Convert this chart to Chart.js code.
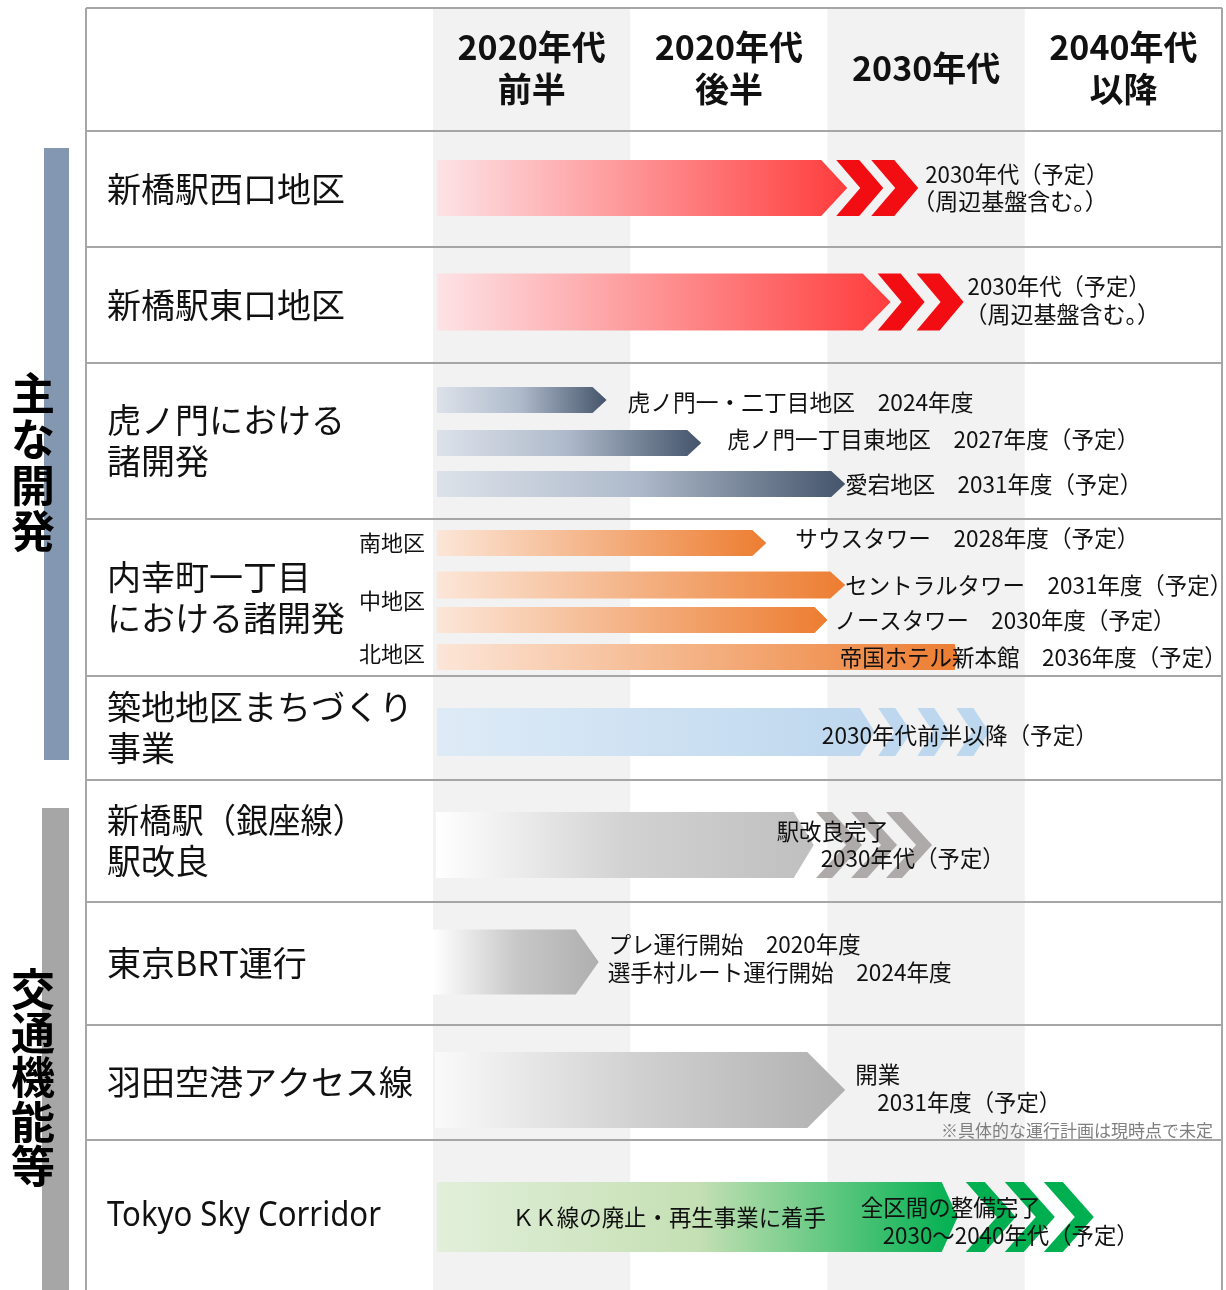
<!DOCTYPE html>
<html>
<head>
<meta charset="utf-8">
<script src="https://cdn.jsdelivr.net/npm/chart.js@4.4.1/dist/chart.umd.min.js"></script>
<style>
html,body{margin:0;padding:0;background:#fff;}
#wrap{width:1226px;height:1290px;position:relative;}
canvas{display:block;}
</style>
</head>
<body>
<div id="wrap"><canvas id="c" width="1226" height="1290"></canvas></div>
<script>
// ================= DATA =================
const periods = [['2020年代','前半'], ['2020年代','後半'], ['2030年代'], ['2040年代','以降']];
const groups = ['主な開発', '交通機能等'];
const categories = [
  ['新橋駅西口地区'], ['新橋駅東口地区'], ['虎ノ門における','諸開発'], ['内幸町一丁目','における諸開発'],
  ['築地地区まちづくり','事業'], ['新橋駅（銀座線）','駅改良'], ['東京BRT運行'], ['羽田空港アクセス線'], ['Tokyo Sky Corridor']
];
const subAreas = ['南地区', '中地区', '北地区'];
const projects = ['新橋駅西口地区','新橋駅東口地区','虎ノ門一・二丁目地区','虎ノ門一丁目東地区','愛宕地区',
  'サウスタワー','セントラルタワー','ノースタワー','帝国ホテル新本館','築地地区まちづくり事業',
  '新橋駅（銀座線）駅改良','東京BRT運行','羽田空港アクセス線','Tokyo Sky Corridor'];
const projectRow   = [0, 1, 2, 2, 2, 3, 3, 3, 3, 4, 5, 6, 7, 8];
// values in period units: 0 = start of 2020年代前半, 1 = 2020年代後半, 2 = 2030年代, 3 = 2040年代以降
const startValue   = [0.02, 0.02, 0.02, 0.02, 0.02, 0.02, 0.02, 0.02, 0.02, 0.02, 0.015, 0, 0.01, 0.02];
const endValue     = [2.10, 2.32, 0.88, 1.36, 2.09, 1.69, 2.09, 2.00, 2.66, 2.24, 1.93, 0.84, 2.09, 2.66];
const chevronEnd   = [2.46, 2.69, null, null, null, null, null, null, null, 2.82, 2.53, null, null, 3.35];
const chevronCount = [2, 2, 0, 0, 0, 0, 0, 0, 0, 3, 3, 0, 0, 3];
const milestoneText = [
  ['2030年代（予定）', '（周辺基盤含む。）'],
  ['2030年代（予定）', '（周辺基盤含む。）'],
  ['虎ノ門一・二丁目地区　2024年度'],
  ['虎ノ門一丁目東地区　2027年度（予定）'],
  ['愛宕地区　2031年度（予定）'],
  ['サウスタワー　2028年度（予定）'],
  ['セントラルタワー　2031年度（予定）'],
  ['ノースタワー　2030年度（予定）'],
  ['帝国ホテル新本館　2036年度（予定）'],
  ['2030年代前半以降（予定）'],
  ['駅改良完了', '2030年代（予定）'],
  ['プレ運行開始　2020年度', '選手村ルート運行開始　2024年度'],
  ['開業', '2031年度（予定）'],
  ['全区間の整備完了', '2030～2040年代（予定）']
];
const inBarText = 'ＫＫ線の廃止・再生事業に着手';
const footnote = '※具体的な運行計画は現時点で未定';

// ================= LAYOUT / STYLE =================
const W = 1226, H = 1290;
const FONT = "'Noto Sans CJK JP','Noto Sans',sans-serif";
const rowEdges = [-123, 0, 116, 232, 388, 545, 649, 771, 894, 1009, 1159]; // lane units (header + 9 rows)
const laneCenter = [57, 171, 269, 312, 353, 412, 454, 489, 526, 601, 714, 831, 959, 1086];
const tableLeft = 86, labelX = 107, subLabelRight = 425;
const lineColor = '#a6a6a6', shadeColor = '#f2f2f2';
const PAREN_PAD = 11;
const groupBars = [
  {x: 44, w: 25, top: 148, bottom: 760, color: '#8497b0', cx: 33, firstY: 393, step: 46},
  {x: 42, w: 27, top: 808, bottom: 1290, color: '#a6a6a6', cx: 33, firstY: 989, step: 44.3}
];
const RED = ['#fde3e6', '#ff3c3c'], SLATE = ['#dde2ea', '#adb9ca', '#44546a'], ORANGE = ['#fce6d8', '#f4b183', '#ed7d31'];
const barStyle = [
  {h: 56, tip: 26, grad: RED, chev: {color: '#f20d12', pitch: 35, t: 23, d: 24}},
  {h: 57, tip: 28, grad: RED, chev: {color: '#f20d12', pitch: 39, t: 23, d: 24}},
  {h: 26, tip: 14, grad: SLATE},
  {h: 26, tip: 14, grad: SLATE},
  {h: 26, tip: 14, grad: SLATE},
  {h: 26, tip: 14, grad: ORANGE},
  {h: 27, tip: 15, grad: ORANGE},
  {h: 26, tip: 13, grad: ORANGE},
  {h: 26, tip: 3, grad: ORANGE},
  {h: 48, tip: 15, grad: ['#deebf7', '#bdd7ee'], chev: {color: '#bdd7ee', pitch: 39, t: 17, d: 16}},
  {h: 66, tip: 20, grad: ['#ffffff', '#d2d2d2', '#bfbfbf'], chev: {color: '#aeaaaa', pitch: 35, t: 16, d: 30}},
  {h: 65, tip: 23, grad: ['#ffffff', '#c8c8c8', '#afafaf']},
  {h: 76, tip: 38, grad: ['#fafafa', '#d0d0d0', '#b0b0b0']},
  {h: 70, tip: 16, grad: ['#e2efda', '#c5e0b4', '#00b050'], chev: {color: '#00b050', pitch: 39, t: 19, d: 31}}
];
// dx = visible left edge offset, w = visible width in the reference
const labelStyle = [
  [{a: 'chev', dx: 7, dy: -14, w: 172}, {a: 'chev', dx: 5, dy: 13, w: 184}],
  [{a: 'chev', dx: 4, dy: -16, w: 172}, {a: 'chev', dx: 12, dy: 12, w: 186}],
  [{a: 'tip', dx: 21, dy: 2, w: 346}],
  [{a: 'tip', dx: 26, dy: -4, w: 401}],
  [{a: 'tip', dx: 0, dy: 0, w: 286}],
  [{a: 'tip', dx: 29, dy: -5, w: 333}],
  [{a: 'tip', dx: 0, dy: 0, w: 376}],
  [{a: 'tip', dx: 7, dy: 0, w: 330}],
  [{a: 'tip', dx: -118, dy: 0, w: 376}],
  [{a: 'tip', dx: -53, dy: 3, w: 265}],
  [{a: 'tip', dx: -37, dy: -14, w: 112}, {a: 'tip', dx: 7, dy: 13, w: 173}],
  [{a: 'tip', dx: 10, dy: -18, w: 252}, {a: 'tip', dx: 9, dy: 10, w: 344}],
  [{a: 'tip', dx: 10, dy: -16, w: 45}, {a: 'tip', dx: 32, dy: 12, w: 173}],
  [{a: 'tip', dx: -97, dy: -10, w: 180}, {a: 'tip', dx: -75, dy: 18, w: 245}]
];

// ================= DRAW HELPERS =================
function line(ctx, x1, y1, x2, y2) { ctx.beginPath(); ctx.moveTo(x1, y1); ctx.lineTo(x2, y2); ctx.stroke(); }
function arrowPath(ctx, x0, x1, yc, h, d) {
  const t = yc - h / 2, b = yc + h / 2;
  ctx.beginPath();
  ctx.moveTo(x0, t); ctx.lineTo(x1 - d, t); ctx.lineTo(x1, yc); ctx.lineTo(x1 - d, b); ctx.lineTo(x0, b);
  ctx.closePath();
}
function chevronPath(ctx, xl, yc, h, t, d) {
  const tp = yc - h / 2, b = yc + h / 2;
  ctx.beginPath();
  ctx.moveTo(xl, tp); ctx.lineTo(xl + t, tp); ctx.lineTo(xl + t + d, yc); ctx.lineTo(xl + t, b); ctx.lineTo(xl, b); ctx.lineTo(xl + d, yc);
  ctx.closePath();
}
// draw text so that its visible extent matches (full-width parens carry blank side bearings)
function fitText(ctx, t, x, y, w) {
  let lead = t.startsWith('（') ? PAREN_PAD : 0;
  let trail = t.endsWith('）') ? PAREN_PAD : 0;
  ctx.fillText(t, x - lead, y, w + lead + trail);
}

const tablePlugin = {
  id: 'roadmapTable',
  beforeDraw(chart) {
    const {ctx} = chart; const x = chart.scales.x, y = chart.scales.y;
    ctx.save();
    ctx.fillStyle = '#fff'; ctx.fillRect(0, 0, W, H);
    const top = y.getPixelForValue(rowEdges[0]);
    const bottom = y.getPixelForValue(rowEdges[rowEdges.length - 1]);
    ctx.fillStyle = shadeColor;
    [0, 2].forEach(i => { const l = x.getPixelForValue(i), r = x.getPixelForValue(i + 1); ctx.fillRect(l, top, r - l, bottom - top); });
    ctx.strokeStyle = lineColor; ctx.lineWidth = 2;
    for (let i = 0; i < rowEdges.length - 1; i++) { const py = Math.round(y.getPixelForValue(rowEdges[i])); line(ctx, tableLeft, py, x.getPixelForValue(4), py); }
    line(ctx, tableLeft, top, tableLeft, bottom);
    line(ctx, x.getPixelForValue(4), top, x.getPixelForValue(4), bottom);
    ctx.fillStyle = '#111'; ctx.textAlign = 'center'; ctx.textBaseline = 'middle';
    ctx.font = 'bold 34px ' + FONT;
    const hMid = (y.getPixelForValue(rowEdges[0]) + y.getPixelForValue(rowEdges[1])) / 2;
    periods.forEach((p, i) => {
      const cx = x.getPixelForValue(i + 0.5);
      p.forEach((t, j) => ctx.fillText(t, cx, hMid + (j - (p.length - 1) / 2) * 42 - 1));
    });
    ctx.textAlign = 'left'; ctx.fillStyle = '#111';
    categories.forEach((lines, i) => {
      const cy = (y.getPixelForValue(rowEdges[i + 1]) + y.getPixelForValue(rowEdges[i + 2])) / 2;
      lines.forEach((t, j) => {
        const isLatin = /^[A-Za-z ]+$/.test(t);
        ctx.font = (isLatin ? "34px 'Noto Sans',sans-serif" : '34px ' + FONT);
        const yy = cy + (j - (lines.length - 1) / 2) * 41;
        if (isLatin) ctx.fillText(t, labelX, yy + 1, 274);
        else if (t === '新橋駅（銀座線）') ctx.fillText(t, labelX, yy, 258);
        else ctx.fillText(t, labelX, yy);
      });
    });
    groupBars.forEach((g, gi) => {
      ctx.fillStyle = g.color; ctx.fillRect(g.x, g.top, g.w, g.bottom - g.top);
      ctx.fillStyle = '#000'; ctx.font = 'bold 44px ' + FONT; ctx.textAlign = 'center';
      [...groups[gi]].forEach((ch, k) => ctx.fillText(ch, g.cx, g.firstY + k * g.step));
    });
    ctx.restore();
  },
  beforeDatasetsDraw(chart) {
    const {ctx} = chart; const x = chart.scales.x;
    ctx.save();
    chart.data.datasets.forEach((ds, i) => {
      const el = chart.getDatasetMeta(i).data[0];
      const st = barStyle[i];
      const x0 = el.base, x1 = el.x, yc = el.y, h = el.height;
      const g = ctx.createLinearGradient(x0, 0, x1, 0);
      st.grad.forEach((c, k) => g.addColorStop(k / (st.grad.length - 1), c));
      ctx.fillStyle = g;
      arrowPath(ctx, x0, x1, yc, h, st.tip);
      ctx.fill();
      if (chevronCount[i] > 0) {
        const c = st.chev; const endPx = x.getPixelForValue(chevronEnd[i]);
        ctx.fillStyle = c.color;
        for (let k = 0; k < chevronCount[i]; k++) {
          const xl = endPx - c.d - c.t - (chevronCount[i] - 1 - k) * c.pitch;
          chevronPath(ctx, xl, yc, h, c.t, c.d);
          ctx.fill();
        }
      }
    });
    ctx.restore();
    return false;
  },
  afterDraw(chart) {
    const {ctx} = chart; const x = chart.scales.x, y = chart.scales.y;
    ctx.save();
    ctx.fillStyle = '#111'; ctx.textBaseline = 'middle'; ctx.textAlign = 'left';
    ctx.font = '23px ' + FONT;
    chart.data.datasets.forEach((ds, i) => {
      const el = chart.getDatasetMeta(i).data[0];
      milestoneText[i].forEach((t, j) => {
        const s = labelStyle[i][j];
        const ax = s.a === 'chev' ? x.getPixelForValue(chevronEnd[i]) : el.x;
        fitText(ctx, t, ax + s.dx, el.y + s.dy, s.w);
      });
    });
    const tsc = chart.getDatasetMeta(13).data[0];
    ctx.fillText(inBarText, tsc.base + 75, tsc.y, 314);
    ctx.font = '22px ' + FONT; ctx.textAlign = 'right';
    const m = i => chart.getDatasetMeta(i).data[0].y;
    ctx.fillText(subAreas[0], subLabelRight, m(5));
    ctx.fillText(subAreas[1], subLabelRight, (m(6) + m(7)) / 2 - 2);
    ctx.fillText(subAreas[2], subLabelRight, m(8) - 3);
    ctx.font = '17px ' + FONT; ctx.fillStyle = '#7f7f7f'; ctx.textAlign = 'right';
    ctx.fillText(footnote, x.getPixelForValue(4) - 9, y.getPixelForValue(rowEdges[9]) - 9, 278);
    ctx.restore();
  }
};

const datasets = projects.map((name, i) => ({
  label: name,
  data: [{x: [startValue[i], endValue[i]], y: laneCenter[i]}],
  barThickness: barStyle[i].h,
  stack: 'roadmap',
  backgroundColor: barStyle[i].grad[barStyle[i].grad.length - 1],
  borderWidth: 0
}));

new Chart(document.getElementById('c'), {
  type: 'bar',
  data: {datasets},
  options: {
    indexAxis: 'y',
    responsive: false,
    animation: false,
    events: [],
    layout: {padding: {left: 433, right: W - 1222, top: 131, bottom: 0}},
    scales: {
      x: {type: 'linear', min: 0, max: 4, display: false, stacked: false},
      y: {type: 'linear', min: 0, max: 1159, reverse: true, display: false, offset: false}
    },
    plugins: {legend: {display: false}, tooltip: {enabled: false}}
  },
  plugins: [tablePlugin]
});
</script>
</body>
</html>
